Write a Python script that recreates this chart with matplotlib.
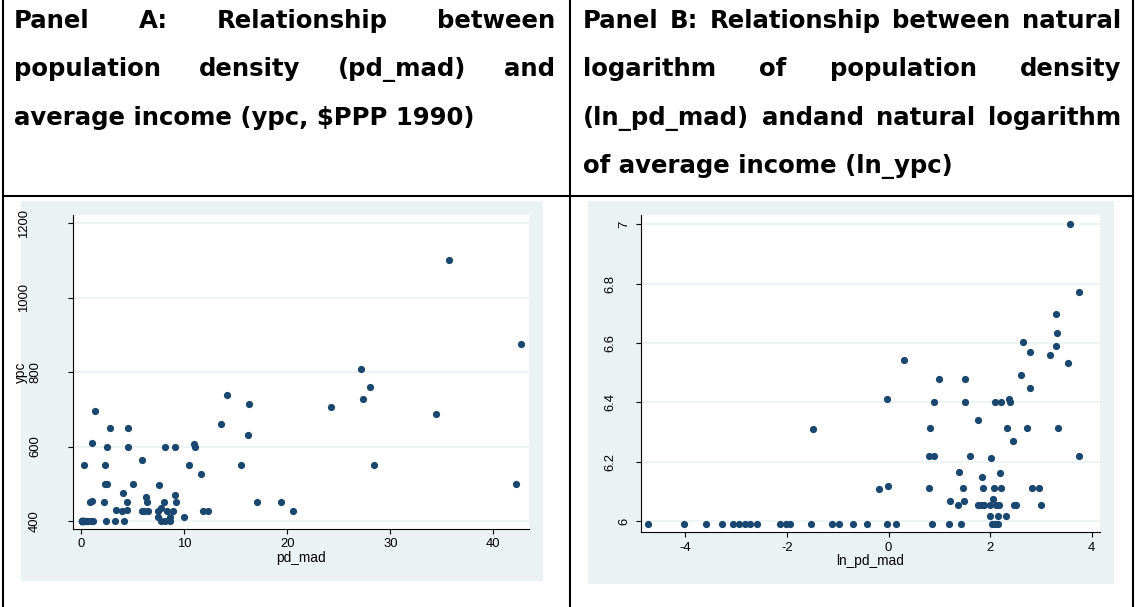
import matplotlib
matplotlib.use("Agg")
import matplotlib.pyplot as plt
from matplotlib.patches import Rectangle
from matplotlib.lines import Line2D

# ---- data ----
# Panel A: pd_mad vs ypc
pd_mad = [0.01, 0.02, 0.03, 0.04, 0.05, 0.05, 0.06, 0.07, 0.07, 0.12, 0.13, 0.14, 0.22,
          0.33, 0.38, 0.49, 0.65, 0.97, 1.16, 2.34, 3.29, 4.18, 7.7, 8.1, 8.6,
          1.32, 2.78, 4.56, 1.0, 2.45, 4.56, 8.1, 9.1, 10.9, 11.05,
          0.22, 2.29, 5.9, 10.4, 11.6, 2.25, 2.45, 5.04, 7.5, 4.0,
          0.84, 1.0, 2.23, 4.4, 6.3, 6.4, 8.0, 9.1, 9.15,
          3.36, 3.9, 4.45, 5.87, 6.1, 6.5, 7.4, 7.77, 8.3, 8.85, 7.4, 8.6, 10.0, 11.8, 12.3,
          13.6, 14.1, 16.3, 16.2, 15.5, 17.0, 19.35, 20.55, 24.2, 27.15, 28.03, 27.3,
          28.4, 34.4, 35.7, 42.2, 42.65]
ypc = [400] * 25 + \
      [695, 650, 650, 609, 600, 600, 600, 600, 607, 600,
       550, 550, 565, 550, 525, 500, 500, 500, 497, 475,
       450, 453, 450, 450, 465, 450, 450, 471, 450,
       430, 426, 430, 426, 426, 426, 426, 434, 426, 426, 410, 410, 410, 426, 426,
       661, 738, 714, 632, 550, 450, 450, 426, 706, 809, 761, 727,
       550, 688, 1100, 500, 875]

# Panel B: ln_pd_mad vs ln_ypc
ln_pd_mad = [-4.73, -4.03, -3.59, -3.29, -3.06, -2.95, -2.83, -2.73, -2.60, -2.14, -2.02,
             -1.94, -1.52, -1.11, -0.98, -0.71, -0.43, -0.03, 0.15, 0.85, 1.19, 1.43,
             2.04, 2.09, 2.15,
             2.0, 2.15, 2.31,
             1.36, 1.77, 1.81, 1.87, 2.0, 2.12, 2.18, 2.47, 2.51, 3.01,
             1.21, 1.49, 2.05,
             0.80, 1.47, 1.85, 2.08, 2.21, 2.82, 2.96, -0.18, -0.01,
             1.84, 2.2, 1.39,
             2.01, 0.80, 0.89, 1.6, 3.74,
             2.44,
             -1.48, 0.82, 2.33, 2.73, 3.34,
             1.77,
             0.89, 1.51, 2.09, 2.21, 2.39, 2.38, -0.03,
             2.78, 1.0, 1.51, 2.60, 3.53, 0.30, 3.18, 2.78, 3.30, 2.64, 3.32, 3.30, 3.74, 3.57]
ln_ypc = [5.991] * 25 + \
         [6.018, 6.016, 6.018,
          6.054, 6.054, 6.054, 6.054, 6.054, 6.054, 6.054, 6.054, 6.054, 6.054,
          6.066, 6.066, 6.073,
          6.112, 6.112, 6.112, 6.112, 6.112, 6.112, 6.112, 6.109, 6.117,
          6.147, 6.162, 6.166,
          6.214, 6.218, 6.218, 6.218, 6.218,
          6.269,
          6.309, 6.313, 6.313, 6.313, 6.313,
          6.34,
          6.40, 6.40, 6.40, 6.40, 6.40, 6.412, 6.412,
          6.448, 6.48, 6.48, 6.493, 6.533, 6.543, 6.56, 6.571, 6.589, 6.603, 6.634,
          6.696, 6.773, 7.0]

xticks_a = [0, 10, 20, 30, 40]
yticks_a = [400, 600, 800, 1000, 1200]
xticks_b = [-4, -2, 0, 2, 4]
yticks_b = [6, 6.2, 6.4, 6.6, 6.8, 7]
ylabels_b = ["6", "6.2", "6.4", "6.6", "6.8", "7"]

head_a = [["Panel", "A:", "Relationship", "between"],
          ["population", "density", "(pd_mad)", "and"],
          ["average income (ypc, $PPP 1990)"]]
head_b = [["Panel", "B:", "Relationship", "between", "natural"],
          ["logarithm", "of", "population", "density"],
          ["(ln_pd_mad)", "andand", "natural", "logarithm"],
          ["of average income (ln_ypc)"]]

NAVY = "#1a476f"
BG = "#eaf2f3"

plt.rcParams["font.family"] = ["Liberation Sans", "DejaVu Sans"]
plt.rcParams["axes.unicode_minus"] = False

W, H = 1136, 607
fig = plt.figure(figsize=(W / 100, H / 100), dpi=100)
fig.patch.set_facecolor("white")


def box(x0, y0, x1, y1):
    return [x0 / W, 1 - y1 / H, (x1 - x0) / W, (y1 - y0) / H]


def vline(x, y0, y1):
    fig.add_artist(Line2D([x / W, x / W], [1 - y0 / H, 1 - y1 / H],
                          transform=fig.transFigure, color="black", lw=1.5))


# table rules
vline(3, 0, H)
vline(570, 0, H)
vline(1133, 0, H)
fig.add_artist(Line2D([3 / W, 1133 / W], [1 - 196 / H] * 2,
                      transform=fig.transFigure, color="black", lw=1.5))

# header text, justified like the word table it came from
rend = fig.canvas.get_renderer()


def text_w(s, size):
    t = fig.text(0, 0, s, fontsize=size, fontweight="bold", family="DejaVu Sans")
    w = t.get_window_extent(rend).width
    t.remove()
    return w


hsize = 10 * 462 / text_w(head_a[2][0], 10)
baselines = [27.8, 76.3, 124.8, 173.3]


def header(lines, x0, x1):
    for i, words in enumerate(lines):
        yb = 1 - baselines[i] / H
        if len(words) == 1 or i == len(lines) - 1:
            fig.text(x0 / W, yb, " ".join(words), fontsize=hsize, fontweight="bold",
                     family="DejaVu Sans", va="baseline")
            continue
        ws = [text_w(w, hsize) for w in words]
        gap = (x1 - x0 - sum(ws)) / (len(words) - 1)
        x = x0
        for w, wd in zip(words, ws):
            fig.text(x / W, yb, w, fontsize=hsize, fontweight="bold",
                     family="DejaVu Sans", va="baseline")
            x += wd + gap


header(head_a, 14, 555)
header(head_b, 583, 1121)


def panel(bg, area, x, y, xlim, ylim, xt, yt, ylabs, xlabel, ylabel=None):
    fig.add_artist(Rectangle((bg[0] / W, 1 - bg[3] / H), (bg[2] - bg[0]) / W,
                             (bg[3] - bg[1]) / H, transform=fig.transFigure,
                             facecolor=BG, edgecolor="none", zorder=-1))
    ax = fig.add_axes(box(*area))
    ax.set_facecolor("white")
    ax.scatter(x, y, s=27, color=NAVY, linewidths=0, zorder=3, clip_on=False)
    ax.set_xlim(*xlim)
    ax.set_ylim(*ylim)
    ax.set_xticks(xt)
    ax.set_yticks(yt)
    ax.yaxis.grid(True, color=BG, lw=1.2)
    ax.set_axisbelow(True)
    for s in ["top", "right"]:
        ax.spines[s].set_visible(False)
    for s in ["left", "bottom"]:
        ax.spines[s].set_linewidth(0.8)
    ax.tick_params(direction="out", length=3.6, width=0.8, labelsize=9.4, pad=3.2)
    ax.tick_params(axis="y", labelleft=False)
    for v, s in zip(yt, ylabs):
        nd = sum(c.isdigit() for c in s)
        off = 5.5 + 11 * nd + 3 * s.count(".")
        ax.annotate(s, xy=(0, v), xycoords=("axes fraction", "data"), xytext=(-off, 0),
                    textcoords="offset pixels", rotation=90, ha="center", va="center",
                    fontsize=9.4)
    ax.set_xlabel(xlabel, fontsize=9.8, labelpad=0.3)
    if ylabel:
        ax.annotate(ylabel, xy=(0, 0.5), xycoords="axes fraction", xytext=(-52.7, 0),
                    textcoords="offset pixels", rotation=90, ha="center", va="center",
                    fontsize=9.8)
    return ax


panel((21, 201, 543, 581), (73.4, 215, 529, 529), pd_mad, ypc,
      (-0.78, 43.46), (378.5, 1222), xticks_a, yticks_a,
      [str(v) for v in yticks_a], "pd_mad", "ypc")
panel((588, 201, 1114, 584), (640.8, 215, 1100, 532.3), ln_pd_mad, ln_ypc,
      (-4.88, 4.163), (5.962, 7.0313), xticks_b, yticks_b, ylabels_b, "ln_pd_mad")

fig.savefig("out.png", dpi=100)
